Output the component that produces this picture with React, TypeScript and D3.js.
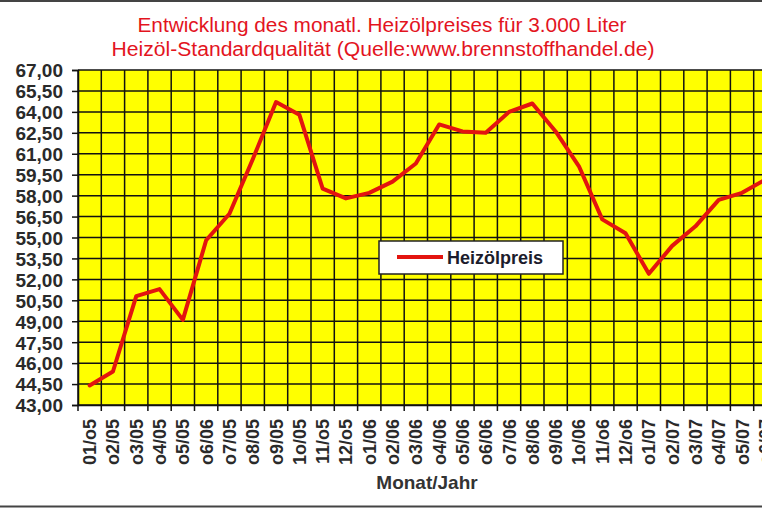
import React, { useEffect, useRef } from 'react';
import * as d3 from 'd3';

// month labels as printed on the original (incl. its typos)
const months = [
  '01/o5', 'o2/05', 'o3/05', 'o4/05', 'o5/05', 'o6/06', 'o7/05', 'o8/05', 'o9/05', '1o/05',
  '11/o5', '12/o5', 'o1/06', 'o2/06', 'o3/06', 'o4/06', 'o5/06', 'o6/06', 'o7/06', 'o8/06',
  'o9/06', '1o/06', '11/o6', '12/o6', 'o1/07', 'o2/07', 'o3/07', 'o4/07', 'o5/07', 'o6/07'
];

const prices = [
  44.4, 45.4, 50.8, 51.3, 49.1, 54.8, 56.7, 60.6, 64.7, 63.8,
  58.5, 57.8, 58.2, 59.0, 60.3, 63.1, 62.6, 62.5, 64.0, 64.6,
  62.6, 60.1, 56.3, 55.3, 52.4, 54.4, 55.8, 57.7, 58.2, 59.15
];

const yTicks = [43, 44.5, 46, 47.5, 49, 50.5, 52, 53.5, 55, 56.5, 58, 59.5, 61, 62.5, 64, 65.5, 67];

const titleLines = [
  'Entwicklung des monatl. Heizölpreises für 3.000 Liter',
  'Heizöl-Standardqualität (Quelle:www.brennstoffhandel.de)'
];

const seriesName = 'Heizölpreis';
const xTitle = 'Monat/Jahr';

const W = 762;
const H = 508;

export default function App() {
  const svgRef = useRef<SVGSVGElement>(null);

  useEffect(() => {
    const svg = d3.select(svgRef.current);
    svg.selectAll('*').remove();

    const left = 78;
    const top = 70;
    const bottom = 405;
    const band = 23.3;
    const right = left + band * months.length;

    const x = d3.scaleBand<number>()
      .domain(months.map((_, i) => i))
      .range([left, right])
      .paddingInner(0)
      .paddingOuter(0);

    const y = d3.scaleLinear().domain([43, 67]).range([bottom, top]);

    // background + frame lines
    svg.append('rect').attr('x', 0).attr('y', 0).attr('width', W).attr('height', H).attr('fill', '#fff');
    svg.append('line').attr('x1', 0).attr('x2', W).attr('y1', 1).attr('y2', 1)
      .attr('stroke', '#444').attr('stroke-width', 2);
    svg.append('line').attr('x1', 0).attr('x2', W).attr('y1', 506.5).attr('y2', 506.5)
      .attr('stroke', '#444').attr('stroke-width', 2);

    // titles (condensed look via textLength)
    const titleWidths = [489, 543];
    titleLines.forEach((t, i) => {
      svg.append('text')
        .attr('x', W / 2 + (i === 0 ? 1 : 2))
        .attr('y', 32 + i * 24)
        .attr('text-anchor', 'middle')
        .attr('textLength', titleWidths[i])
        .attr('lengthAdjust', 'spacingAndGlyphs')
        .style('font-family', '"Liberation Sans Narrow", "Arial Narrow", "Liberation Sans", Arial, sans-serif')
        .style('font-size', '20px')
        .style('fill', '#e3141e')
        .text(t);
    });

    // plot background
    svg.append('rect')
      .attr('x', left).attr('y', top)
      .attr('width', right - left).attr('height', bottom - top)
      .attr('fill', '#ffff00');

    // horizontal grid
    svg.append('g').selectAll('line')
      .data(yTicks)
      .enter().append('line')
      .attr('x1', left).attr('x2', right)
      .attr('y1', d => y(d)).attr('y2', d => y(d))
      .attr('stroke', '#111').attr('stroke-width', 1.5);

    // vertical grid at category boundaries (ticks run below the axis)
    const bounds = months.map((_, i) => x(i) as number).concat([right]);
    svg.append('g').selectAll('line')
      .data(bounds)
      .enter().append('line')
      .attr('x1', d => d).attr('x2', d => d)
      .attr('y1', top).attr('y2', bottom + 6)
      .attr('stroke', '#111').attr('stroke-width', 1.5);

    // y axis
    const yAxis = svg.append('g')
      .attr('transform', `translate(${left},0)`)
      .call(d3.axisLeft(y).tickValues(yTicks).tickSize(6).tickPadding(9)
        .tickFormat(d => d3.format('.2f')(d as number).replace('.', ',')));
    yAxis.select('.domain').attr('stroke', '#111').attr('stroke-width', 1.5);
    yAxis.selectAll('.tick line').attr('stroke', '#111').attr('stroke-width', 1.5);
    yAxis.selectAll('text')
      .attr('dy', '0.36em')
      .style('font-family', '"Liberation Sans", Arial, sans-serif')
      .style('font-weight', 'bold')
      .style('font-size', '19px')
      .style('fill', '#2a2a2a');

    // x axis labels
    const xAxis = svg.append('g')
      .attr('transform', `translate(0,${bottom})`)
      .call(d3.axisBottom(x).tickSize(0).tickFormat(i => months[i as number]));
    xAxis.select('.domain').attr('stroke', '#111').attr('stroke-width', 1.5);
    xAxis.selectAll('text')
      .attr('transform', 'rotate(-90)')
      .attr('x', -14)
      .attr('y', 0)
      .attr('dy', '0.36em')
      .attr('text-anchor', 'end')
      .style('font-family', '"Liberation Sans", Arial, sans-serif')
      .style('font-weight', 'bold')
      .style('font-size', '18px')
      .style('fill', '#2a2a2a');

    svg.append('text')
      .attr('x', 427)
      .attr('y', 489)
      .attr('text-anchor', 'middle')
      .style('font-family', '"Liberation Sans", Arial, sans-serif')
      .style('font-weight', 'bold')
      .style('font-size', '19px')
      .style('fill', '#333')
      .text(xTitle);

    // price line
    const line = d3.line<number>()
      .x((_, i) => (x(i) as number) + x.bandwidth() / 2)
      .y(d => y(d));

    svg.append('path')
      .datum(prices)
      .attr('fill', 'none')
      .attr('stroke', '#e3140f')
      .attr('stroke-width', 4)
      .attr('stroke-linejoin', 'round')
      .attr('stroke-linecap', 'round')
      .attr('d', line);

    // legend
    const lg = svg.append('g').attr('transform', 'translate(379,241)');
    lg.append('rect')
      .attr('width', 184).attr('height', 33)
      .attr('fill', '#fff').attr('stroke', '#222').attr('stroke-width', 1.5);
    lg.append('line')
      .attr('x1', 18).attr('x2', 64).attr('y1', 16).attr('y2', 16)
      .attr('stroke', '#e3140f').attr('stroke-width', 4);
    lg.append('text')
      .attr('x', 68).attr('y', 23)
      .style('font-family', '"Liberation Sans", Arial, sans-serif')
      .style('font-weight', 'bold')
      .style('font-size', '18px')
      .style('fill', '#1c1c2c')
      .text(seriesName);
  }, []);

  return (
    <div style={{ position: 'absolute', left: 0, top: 0, width: W, height: H, overflow: 'hidden' }}>
      <svg ref={svgRef} width={W} height={H} style={{ display: 'block' }}></svg>
    </div>
  );
}
